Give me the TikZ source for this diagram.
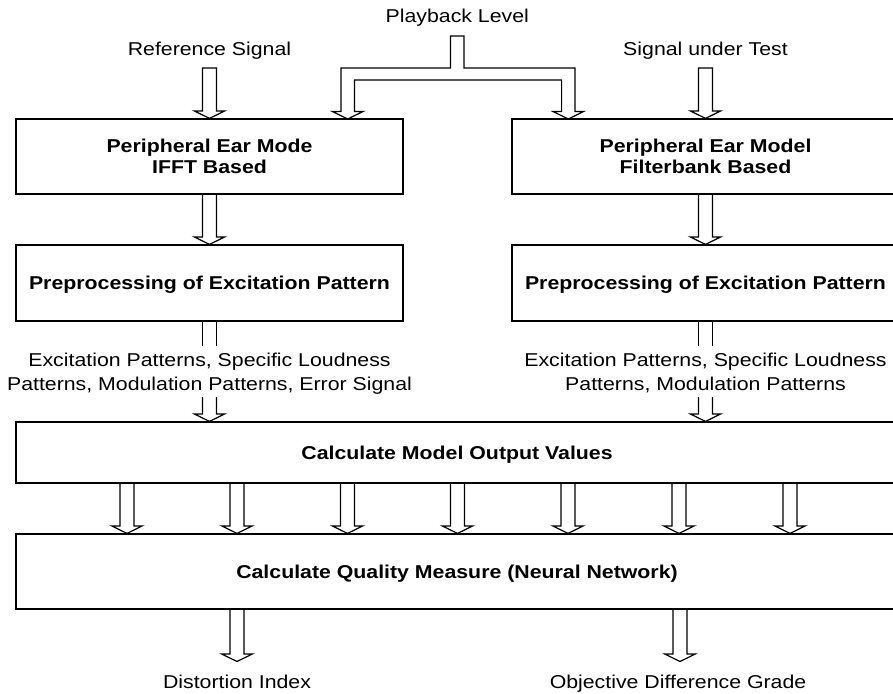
\documentclass[tikz,border=0pt]{standalone}
\usepackage{fontspec}
\setmainfont{Liberation Sans}[FakeStretch=1.145]
\usetikzlibrary{calc}
\tikzset{
  box/.style={draw=black, line width=1.2pt, rectangle, inner sep=0pt,
    font=\bfseries\fontsize{18.6pt}{21pt}\selectfont, align=center,
    text height=13.3pt, text depth=0pt},
  twoline/.style={text height=34.3pt, text depth=0pt},
  lbl/.style={inner sep=0pt, font=\fontsize{18.6pt}{23.3pt}\selectfont, align=center},
  barrow/.style={draw=black, line width=1.2pt, line join=miter},
}
\newcommand\blockarrow[2]{%
  \draw[barrow] let \p1=#1, \p2=#2 in
    (\x1-7pt,\y1) -- (\x1-7pt,\y2+7.5pt) -- (\x1-15.3pt,\y2+7.5pt) -- (\x1,\y2)
    -- (\x1+15.3pt,\y2+7.5pt) -- (\x1+7pt,\y2+7.5pt) -- (\x1+7pt,\y1);}
\newcommand\blockarrowc[2]{%
  \draw[barrow] let \p1=#1, \p2=#2 in
    (\x1-7pt,\y1) -- (\x1-7pt,\y2+7.5pt) -- (\x1-15.3pt,\y2+7.5pt) -- (\x1,\y2)
    -- (\x1+15.3pt,\y2+7.5pt) -- (\x1+7pt,\y2+7.5pt) -- (\x1+7pt,\y1) -- cycle;}
\newcommand\shaftonly[2]{%
  \draw[barrow] let \p1=#1, \p2=#2 in
    (\x1-7pt,\y1) -- (\x1-7pt,\y2) (\x1+7pt,\y1) -- (\x1+7pt,\y2);}
\begin{document}
\begin{tikzpicture}[x=1pt,y=1pt]
\useasboundingbox (0,0) rectangle (893,-693);
\clip (0,0) rectangle (893,-693);

% top labels
\node[lbl, anchor=base] (pb) at (457.3,-22.7) {Playback Level};
\node[lbl, anchor=base] (ref) at (209.5,-56) {Reference Signal};
\node[lbl, anchor=base] (sut) at (705.5,-56) {Signal under Test};

% boxes
\node[box, twoline, minimum width=387pt, minimum height=75pt] (A) at (209.5,-156.5) {Peripheral Ear Mode\\IFFT Based};
\node[box, twoline, minimum width=387pt, minimum height=75pt] (B) at (705.5,-156.5) {Peripheral Ear Model\\Filterbank Based};
\node[box, minimum width=387pt, minimum height=76pt] (C) at (209.5,-283) {Preprocessing of Excitation Pattern};
\node[box, minimum width=387pt, minimum height=76pt] (D) at (705.5,-283) {Preprocessing of Excitation Pattern};
\node[box, minimum width=882pt, minimum height=61pt] (E) at (457,-452.5) {Calculate Model Output Values};
\node[box, minimum width=882pt, minimum height=75pt] (F) at (457,-571.5) {Calculate Quality Measure (Neural Network)};

% middle labels
\node[lbl, text height=36.6pt, text depth=0pt] (lL) at (209.5,-371.7) {Excitation Patterns, Specific Loudness\\Patterns, Modulation Patterns, Error Signal};
\node[lbl, text height=36.6pt, text depth=0pt] (lR) at (705.5,-371.7) {Excitation Patterns, Specific Loudness\\Patterns, Modulation Patterns};

% outputs
\node[lbl, anchor=base] (di) at (237,-688) {Distortion Index};
\node[lbl, anchor=base] (odg) at (678,-688) {Objective Difference Grade};

% input arrows
\coordinate (refa) at (209.5,-68);
\coordinate (suta) at (705.5,-68);
\blockarrowc{(refa)}{(A.north)}
\blockarrowc{(suta)}{(B.north)}

% playback level forked arrow
\draw[barrow] (450.5,-36) -- (464,-36) -- (464,-68) -- (575,-68) -- (575,-111.5)
  -- (583.6,-111.5) -- (568.3,-119) -- (553,-111.5) -- (561.6,-111.5) -- (561.6,-80)
  -- (354.4,-80) -- (354.4,-111.5) -- (363,-111.5) -- (347.7,-119) -- (332.4,-111.5)
  -- (341,-111.5) -- (341,-68) -- (450.5,-68) -- cycle;

% A->C, B->D
\blockarrow{(A.south)}{(C.north)}
\blockarrow{(B.south)}{(D.north)}

% C, D -> labels -> E
\coordinate (cL1) at (209.5,-346);
\coordinate (cL2) at (209.5,-397);
\coordinate (cR1) at (705.5,-346);
\coordinate (cR2) at (705.5,-397);
\shaftonly{(C.south)}{(cL1)}
\shaftonly{(D.south)}{(cR1)}
\blockarrow{(cL2)}{(cL2 |- E.north)}
\blockarrow{(cR2)}{(cR2 |- E.north)}

% E -> F
\foreach \xx [count=\i] in {127,237,347.5,457.5,568,679,790} {
  \coordinate (t\i) at (\xx,0);
  \blockarrow{(t\i |- E.south)}{(t\i |- F.north)}
}

% F -> outputs
\coordinate (o1) at (237,-661.5);
\coordinate (o2) at (680,-661.5);
\blockarrow{(o1 |- F.south)}{(o1)}
\blockarrow{(o2 |- F.south)}{(o2)}
\end{tikzpicture}
\end{document}
